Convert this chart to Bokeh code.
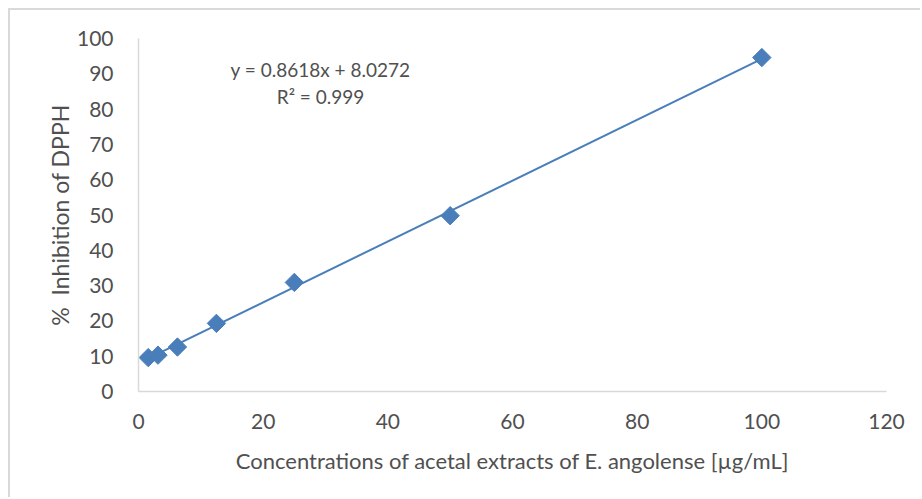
import math
from bokeh.plotting import figure
from bokeh.models import Range1d, Label, FixedTicker
from bokeh.embed import file_html
from bokeh.resources import INLINE

# Data
concentration = [1.5625, 3.125, 6.25, 12.5, 25, 50, 100]
inhibition = [9.6, 10.3, 12.6, 19.3, 30.9, 49.8, 94.6]
fit_slope = 0.8618
fit_intercept = 8.0272
fit_label = "y = 0.8618x + 8.0272"
r2_label = "R\u00b2 = 0.999"
x_ticks = [0, 20, 40, 60, 80, 100, 120]
y_ticks = [0, 10, 20, 30, 40, 50, 60, 70, 80, 90, 100]

FONT = "Lato"
TEXT = "#505050"
BLUE = "#4a7ebb"

p = figure(width=912, height=489, output_backend="svg", toolbar_location=None,
           x_range=Range1d(0, 120), y_range=Range1d(0, 100),
           min_border_left=128, min_border_right=36, min_border_top=28, min_border_bottom=108,
           styles={"margin-left": "8px", "margin-top": "8px",
                   "border-left": "2px solid #d9d9d9", "border-top": "2px solid #d9d9d9"})
p.outline_line_color = None
p.grid.visible = False

for ax in (p.xaxis[0], p.yaxis[0]):
    ax.axis_line_color = "#d9d9d9"
    ax.axis_line_width = 1.5
    ax.major_tick_line_color = None
    ax.minor_tick_line_color = None
    ax.major_label_text_font = FONT
    ax.major_label_text_font_size = "21px"
    ax.major_label_text_color = TEXT
    ax.axis_label_text_font = FONT
    ax.axis_label_text_font_size = "22px"
    ax.axis_label_text_color = TEXT
    ax.axis_label_text_font_style = "normal"

p.yaxis.axis_label_text_font_size = "23px"
p.xaxis.ticker = FixedTicker(ticks=x_ticks)
p.yaxis.ticker = FixedTicker(ticks=y_ticks)
p.xaxis.major_label_standoff = 16
p.yaxis.major_label_standoff = 19
p.xaxis.axis_label = "Concentrations of acetal extracts of E. angolense [\u00b5g/mL]"
p.yaxis.axis_label = "%\u00a0 Inhibition of DPPH"
p.xaxis.axis_label_standoff = 15
p.yaxis.axis_label_standoff = 0

# trendline from displayed fit coefficients
fx = [concentration[0], concentration[-1]]
fy = [fit_slope * v + fit_intercept for v in fx]
p.line(fx, fy, line_color=BLUE, line_width=2)

p.scatter(concentration, inhibition, marker="square", size=13, angle=math.pi / 4,
          fill_color=BLUE, line_color=BLUE)

p.add_layout(Label(x=29.2, y=91.1, text=fit_label, text_align="center", text_baseline="middle",
                   text_font=FONT, text_font_size="19px", text_color=TEXT))
p.add_layout(Label(x=29.2, y=83.6, text=r2_label, text_align="center", text_baseline="middle",
                   text_font=FONT, text_font_size="19px", text_color=TEXT))

open("out.html", "w").write(file_html(p, INLINE))
